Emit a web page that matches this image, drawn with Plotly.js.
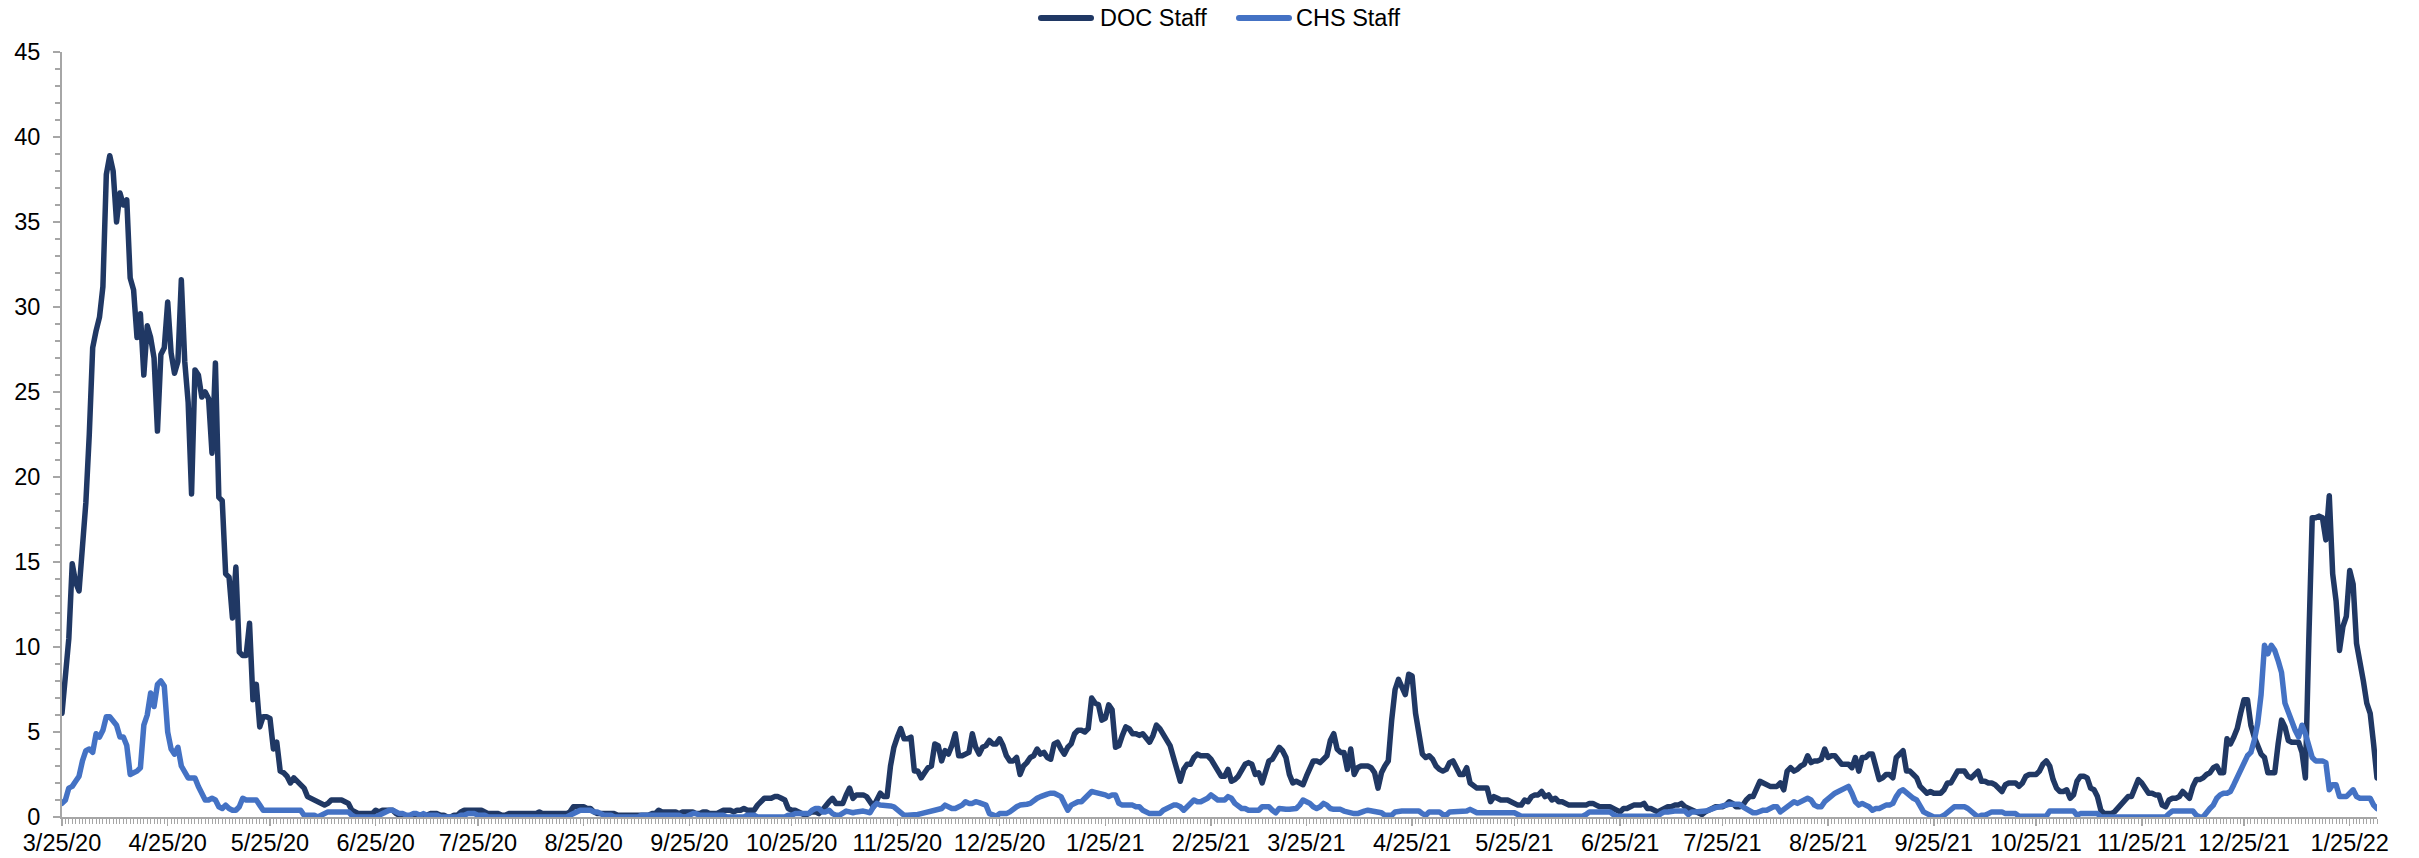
<!DOCTYPE html>
<html>
<head>
<meta charset="utf-8">
<script src="https://cdn.plot.ly/plotly-3.0.1.min.js"></script>
<style>
  html, body { margin: 0; padding: 0; background: #ffffff; }
  #chart { width: 2419px; height: 858px; }
  .scatterlayer .js-line { stroke-linejoin: round !important; stroke-linecap: round !important; }
  .shapelayer path { stroke-linecap: round !important; }
</style>
</head>
<body>
<div id="chart"></div>
<script>
// ---------------- data ----------------
const START_DATE = '2020-03-25';

const seriesNames = ['DOC Staff', 'CHS Staff'];

const tickDates = [
  '2020-03-25','2020-04-25','2020-05-25','2020-06-25','2020-07-25','2020-08-25',
  '2020-09-25','2020-10-25','2020-11-25','2020-12-25','2021-01-25','2021-02-25',
  '2021-03-25','2021-04-25','2021-05-25','2021-06-25','2021-07-25','2021-08-25',
  '2021-09-25','2021-10-25','2021-11-25','2021-12-25','2022-01-25'
];
const tickLabels = [
  '3/25/20','4/25/20','5/25/20','6/25/20','7/25/20','8/25/20',
  '9/25/20','10/25/20','11/25/20','12/25/20','1/25/21','2/25/21',
  '3/25/21','4/25/21','5/25/21','6/25/21','7/25/21','8/25/21',
  '9/25/21','10/25/21','11/25/21','12/25/21','1/25/22'
];

// daily values, one per day starting 3/25/20
const docStaff = [
  6.1,8.0,10.5,14.9,13.8,13.3,15.5,18.5,22.5,27.6, 28.6,29.4,31.2,37.8,38.9,38.0,35.0,36.7,36.0,36.3,
  31.7,31.0,28.2,29.6,26.0,28.9,28.2,27.0,22.7,27.2, 27.6,30.3,27.3,26.1,26.8,31.6,26.8,24.4,19.0,26.3,
  26.0,24.7,25.0,24.6,21.4,26.7,18.8,18.6,14.3,14.1, 11.7,14.7,9.7,9.5,9.5,11.4,6.9,7.8,5.3,5.9,
  5.9,5.8,4.0,4.4,2.7,2.6,2.4,2.0,2.3,2.1, 2.0,1.7,1.2,1.1,1.0,0.9,0.8,0.7,0.8,1.0,
  1.0,1.0,1.0,0.9,0.8,0.4,0.3,0.2,0.2,0.2, 0.2,0.2,0.4,0.3,0.4,0.4,0.4,0.4,0.2,0.1,
  0.1,0.05,0.05,0.1,0.1,0.05,0.1,0.1,0.2,0.2, 0.2,0.1,0.1,0.0,0.0,0.1,0.1,0.3,0.4,0.4,
  0.4,0.4,0.4,0.4,0.3,0.2,0.2,0.2,0.2,0.1, 0.1,0.2,0.2,0.2,0.2,0.2,0.2,0.2,0.2,0.2,
  0.3,0.2,0.2,0.2,0.2,0.2,0.2,0.2,0.2,0.3, 0.6,0.6,0.6,0.6,0.5,0.5,0.3,0.2,0.2,0.2,
  0.2,0.2,0.2,0.1,0.1,0.1,0.1,0.1,0.1,0.1, 0.1,0.1,0.1,0.2,0.2,0.4,0.3,0.3,0.3,0.3,
  0.3,0.2,0.3,0.3,0.3,0.3,0.2,0.2,0.3,0.3, 0.2,0.2,0.2,0.3,0.4,0.4,0.4,0.3,0.4,0.4,
  0.5,0.4,0.4,0.4,0.7,0.9,1.1,1.1,1.1,1.2, 1.2,1.1,1.0,0.5,0.4,0.4,0.3,0.2,0.1,0.2,
  0.3,0.3,0.2,0.4,0.7,0.9,1.1,0.8,0.8,0.8, 1.3,1.7,1.1,1.3,1.3,1.3,1.2,0.9,0.6,1.0,
  1.4,1.2,1.2,3.0,4.1,4.7,5.2,4.6,4.6,4.7, 2.7,2.7,2.3,2.6,2.9,3.0,4.3,4.2,3.3,3.9,
  3.7,4.2,4.9,3.6,3.6,3.7,3.8,4.9,4.1,3.7, 4.1,4.2,4.5,4.3,4.3,4.6,4.2,3.6,3.3,3.3,
  3.5,2.5,3.0,3.2,3.5,3.6,4.0,3.7,3.8,3.5, 3.4,4.3,4.4,4.0,3.7,4.1,4.3,4.9,5.1,5.1,
  5.0,5.2,7.0,6.7,6.6,5.7,5.8,6.6,6.3,4.1, 4.2,4.8,5.3,5.2,4.9,4.9,4.8,4.9,4.6,4.4,
  4.8,5.4,5.2,4.9,4.6,4.2,3.5,2.9,2.1,2.8, 3.1,3.1,3.5,3.7,3.6,3.6,3.6,3.4,3.1,2.7,
  2.4,2.4,2.8,2.1,2.2,2.4,2.8,3.1,3.2,3.1, 2.5,2.6,2.0,2.6,3.3,3.4,3.8,4.1,3.9,3.5,
  2.5,2.0,2.1,2.0,1.9,2.4,2.9,3.3,3.3,3.2, 3.4,3.6,4.5,4.9,4.0,3.8,3.8,2.8,4.0,2.5,
  2.9,3.0,3.0,3.0,2.9,2.6,1.7,2.6,3.0,3.3, 5.7,7.5,8.1,7.6,7.2,8.4,8.3,6.1,4.9,3.7,
  3.5,3.6,3.4,3.0,2.8,2.7,2.8,3.2,3.3,2.8, 2.5,2.5,2.9,2.0,1.8,1.7,1.7,1.7,1.7,0.9,
  1.2,1.1,1.0,1.0,1.0,0.9,0.8,0.7,0.7,1.0, 0.9,1.2,1.3,1.3,1.5,1.2,1.3,1.0,1.1,0.9,
  0.9,0.8,0.7,0.7,0.7,0.7,0.7,0.7,0.8,0.8, 0.7,0.6,0.6,0.6,0.6,0.5,0.4,0.3,0.5,0.5,
  0.6,0.7,0.7,0.7,0.8,0.5,0.5,0.4,0.3,0.4, 0.5,0.6,0.6,0.7,0.7,0.8,0.6,0.5,0.4,0.3,
  0.2,0.15,0.3,0.4,0.5,0.6,0.6,0.6,0.7,0.9, 0.8,0.6,0.6,0.7,1.0,1.2,1.2,1.7,2.1,2.0,
  1.9,1.8,1.8,1.8,2.0,1.6,2.7,2.9,2.7,2.8, 3.0,3.1,3.6,3.2,3.3,3.3,3.4,4.0,3.5,3.6,
  3.6,3.3,3.1,3.1,3.1,2.9,3.5,2.7,3.5,3.5, 3.7,3.7,2.9,2.2,2.3,2.5,2.5,2.3,3.5,3.7,
  3.9,2.7,2.7,2.5,2.3,1.8,1.6,1.4,1.5,1.4, 1.4,1.4,1.6,2.0,2.0,2.4,2.7,2.7,2.7,2.4,
  2.3,2.5,2.7,2.1,2.1,2.0,2.0,1.9,1.7,1.5, 1.9,2.0,2.0,2.0,1.8,2.0,2.4,2.5,2.5,2.5,
  2.7,3.1,3.3,3.0,2.2,1.7,1.5,1.5,1.6,1.1, 1.3,2.1,2.4,2.4,2.3,1.7,1.6,1.2,0.4,0.2,
  0.2,0.2,0.3,0.5,0.7,1.0,1.2,1.2,1.8,2.2, 2.0,1.7,1.4,1.4,1.3,1.3,0.7,0.6,1.0,1.1,
  1.1,1.2,1.5,1.3,1.1,1.8,2.2,2.2,2.3,2.5, 2.6,2.9,3.0,2.6,2.6,4.6,4.3,4.7,5.2,6.1,
  6.9,6.9,5.4,4.7,4.1,3.7,3.5,2.6,2.6,2.6, 4.3,5.7,5.3,4.5,4.4,4.4,4.4,3.8,2.3,10.4,
  17.6,17.6,17.7,17.6,16.3,18.9,14.3,12.7,9.8,11.2, 11.8,14.5,13.7,10.2,9.2,8.0,6.7,6.1,4.3,2.3
];

const chsStaff = [
  0.8,1.0,1.7,1.8,2.1,2.4,3.3,3.9,4.0,3.8, 4.9,4.7,5.1,5.9,5.9,5.7,5.4,4.7,4.7,4.2,
  2.5,2.6,2.7,2.9,5.4,6.0,7.3,6.5,7.8,8.0, 7.7,5.0,4.0,3.7,4.1,3.0,2.7,2.3,2.3,2.3,
  1.8,1.4,1.0,1.0,1.1,1.0,0.6,0.5,0.7,0.5, 0.4,0.4,0.6,1.1,1.0,1.0,1.0,1.0,0.7,0.4,
  0.4,0.4,0.4,0.4,0.4,0.4,0.4,0.4,0.4,0.4, 0.4,0.1,0.1,0.1,0.1,0.0,0.1,0.2,0.3,0.3,
  0.3,0.3,0.3,0.3,0.3,0.1,0.0,0.0,0.0,0.0, 0.0,0.0,0.0,0.1,0.2,0.3,0.4,0.4,0.3,0.2,
  0.2,0.1,0.1,0.2,0.2,0.1,0.2,0.1,0.1,0.1, 0.1,0.0,0.0,0.0,0.0,0.0,0.0,0.1,0.1,0.2,
  0.2,0.2,0.1,0.1,0.1,0.0,0.0,0.0,0.0,0.0, 0.0,0.0,0.0,0.0,0.0,0.0,0.0,0.0,0.0,0.0,
  0.0,0.0,0.0,0.0,0.0,0.0,0.0,0.0,0.0,0.1, 0.2,0.3,0.4,0.4,0.4,0.4,0.3,0.3,0.2,0.1,
  0.1,0.1,0.0,0.0,0.0,0.0,0.0,0.0,0.0,0.0, 0.1,0.1,0.1,0.1,0.1,0.1,0.1,0.1,0.1,0.1,
  0.1,0.1,0.0,0.0,0.1,0.2,0.2,0.1,0.1,0.1, 0.1,0.1,0.1,0.1,0.1,0.0,0.0,0.0,0.0,0.0,
  0.0,0.1,0.1,0.1,0.0,0.0,0.0,0.0,0.0,0.0, 0.0,0.0,0.0,0.1,0.1,0.2,0.2,0.2,0.2,0.2,
  0.4,0.5,0.5,0.3,0.3,0.4,0.2,0.1,0.1,0.2, 0.35,0.3,0.25,0.3,0.35,0.35,0.3,0.25,0.6,0.8,
  0.7,0.7,0.7,0.65,0.6,0.4,0.2,0.1,0.1,0.1, 0.1,0.15,0.2,0.25,0.3,0.4,0.45,0.5,0.5,0.7,
  0.6,0.5,0.5,0.6,0.7,0.9,0.8,0.8,0.9,0.85, 0.8,0.7,0.2,0.1,0.05,0.2,0.2,0.2,0.3,0.5,
  0.6,0.7,0.7,0.75,0.8,1.0,1.1,1.2,1.3,1.35, 1.4,1.4,1.3,1.2,0.8,0.4,0.7,0.8,0.9,0.9,
  1.1,1.4,1.5,1.45,1.4,1.4,1.3,1.2,1.3,1.3, 0.8,0.7,0.7,0.7,0.7,0.6,0.6,0.4,0.3,0.2,
  0.2,0.2,0.2,0.4,0.5,0.6,0.7,0.7,0.6,0.4, 0.6,0.9,1.0,0.9,0.9,1.0,1.1,1.3,1.1,1.0,
  1.0,1.0,1.2,1.1,0.8,0.6,0.5,0.5,0.4,0.4, 0.4,0.4,0.6,0.6,0.6,0.4,0.25,0.5,0.45,0.45,
  0.45,0.45,0.5,0.7,1.0,0.9,0.8,0.6,0.5,0.6, 0.8,0.7,0.5,0.45,0.45,0.45,0.35,0.3,0.2,0.2,
  0.2,0.3,0.35,0.4,0.35,0.3,0.25,0.25,0.1,0.1, 0.1,0.3,0.35,0.35,0.35,0.35,0.35,0.35,0.35,0.2,
  0.1,0.3,0.3,0.3,0.3,0.15,0.1,0.3,0.3,0.3, 0.3,0.3,0.35,0.45,0.3,0.25,0.25,0.25,0.25,0.25,
  0.25,0.25,0.25,0.25,0.25,0.25,0.25,0.15,0.05,0.05, 0.05,0.05,0.05,0.05,0.05,0.05,0.05,0.05,0.05,0.05,
  0.05,0.05,0.05,0.05,0.05,0.05,0.05,0.15,0.3,0.3, 0.3,0.3,0.3,0.3,0.3,0.15,0.05,0.05,0.05,0.05,
  0.05,0.05,0.05,0.05,0.05,0.05,0.05,0.05,0.05,0.2, 0.3,0.3,0.35,0.35,0.35,0.35,0.35,0.15,0.3,0.3,
  0.3,0.3,0.35,0.4,0.5,0.55,0.6,0.65,0.75,0.75, 0.75,0.75,0.75,0.6,0.45,0.3,0.25,0.25,0.35,0.4,
  0.4,0.5,0.6,0.6,0.3,0.45,0.6,0.7,0.9,0.8, 0.9,1.0,1.1,1.0,0.7,0.6,0.6,0.9,1.1,1.2,
  1.4,1.5,1.6,1.7,1.8,1.4,0.9,0.7,0.8,0.7, 0.6,0.4,0.5,0.5,0.6,0.7,0.7,0.8,1.2,1.5,
  1.6,1.4,1.2,1.1,1.0,0.7,0.3,0.2,0.1,0.0, 0.0,0.0,0.1,0.3,0.5,0.6,0.6,0.6,0.6,0.5,
  0.3,0.15,0.0,0.1,0.1,0.2,0.3,0.3,0.3,0.3, 0.2,0.2,0.2,0.2,0.05,0.05,0.05,0.05,0.05,0.05,
  0.05,0.05,0.05,0.35,0.35,0.35,0.35,0.35,0.35,0.35, 0.35,0.1,0.2,0.2,0.2,0.2,0.2,0.2,0.0,0.0,
  0.0,0.0,0.0,0.0,0.0,0.0,0.0,0.0,0.0,0.0, 0.0,0.0,0.0,0.0,0.0,0.0,0.0,0.0,0.2,0.35,
  0.35,0.35,0.35,0.35,0.35,0.35,0.1,0.0,0.0,0.3, 0.5,0.7,1.1,1.3,1.4,1.4,1.5,1.9,2.3,2.8,
  3.2,3.6,3.8,4.5,5.5,7.2,10.1,9.6,10.1,9.8, 9.2,8.5,6.7,6.1,5.6,5.1,4.7,5.4,4.9,4.1,
  3.5,3.3,3.3,3.3,3.2,1.6,1.9,1.9,1.2,1.2, 1.2,1.4,1.6,1.2,1.1,1.1,1.1,1.1,0.7,0.5
];

const seriesColors = ['#203864', '#4472C4'];

// ---------------- build ----------------
function dailyDates(start, n) {
  const p = start.split('-').map(Number);
  const t0 = Date.UTC(p[0], p[1] - 1, p[2]);
  const out = [];
  for (let i = 0; i < n; i++) out.push(new Date(t0 + i * 86400000).toISOString().slice(0, 10));
  return out;
}
const dates = dailyDates(START_DATE, docStaff.length);
const END_DATE = dates[dates.length - 1];

const FONT = 'Liberation Sans, Arial, Helvetica, sans-serif';
const AXIS_GRAY = '#A6A6A6';
const LINE_W = 5.5;

const W = 2419, H = 858;
const M = { l: 62, r: 42, t: 52, b: 41 };
const PW = W - M.l - M.r, PH = H - M.t - M.b;
// pixel -> paper helpers for the legend decoration (layout only)
const px = v => (v - M.l) / PW;
const py = v => (H - M.b - v) / PH;

const traces = [
  { x: dates, y: docStaff, name: seriesNames[0], type: 'scatter', mode: 'lines',
    line: { color: seriesColors[0], width: LINE_W, shape: 'linear' }, hoverinfo: 'skip', showlegend: false },
  { x: dates, y: chsStaff, name: seriesNames[1], type: 'scatter', mode: 'lines',
    line: { color: seriesColors[1], width: LINE_W, shape: 'linear' }, hoverinfo: 'skip', showlegend: false }
];

// legend: long line samples like the original
const legendItems = [
  { lineFrom: 1041, lineTo: 1091, textX: 1099 },
  { lineFrom: 1239, lineTo: 1289, textX: 1295 }
];
const LEG_Y = 18;
const shapes = legendItems.map((it, i) => ({
  type: 'line', xref: 'paper', yref: 'paper',
  x0: px(it.lineFrom), x1: px(it.lineTo), y0: py(LEG_Y), y1: py(LEG_Y),
  line: { color: seriesColors[i], width: 6 }
}));
const annotations = legendItems.map((it, i) => ({
  xref: 'paper', yref: 'paper', x: px(it.textX), y: py(LEG_Y),
  xanchor: 'left', yanchor: 'middle', showarrow: false,
  text: seriesNames[i], font: { family: FONT, size: 23.5, color: '#000000' },
  borderpad: 0
}));

const layout = {
  width: W, height: H,
  margin: { l: M.l, r: M.r, t: M.t, b: M.b, pad: 0 },
  paper_bgcolor: '#ffffff', plot_bgcolor: '#ffffff',
  font: { family: FONT, size: 24, color: '#000000' },
  showlegend: false,
  shapes: shapes,
  annotations: annotations,
  xaxis: {
    type: 'date', range: [START_DATE, END_DATE],
    tickmode: 'array', tickvals: tickDates, ticktext: tickLabels,
    showgrid: false, zeroline: false,
    showline: true, linecolor: AXIS_GRAY, linewidth: 2,
    ticks: 'outside', ticklen: 7, tickwidth: 1.5, tickcolor: AXIS_GRAY,
    tickfont: { family: FONT, size: 23.5, color: '#000000' },
    ticklabelstandoff: -3,
    minor: { ticks: 'outside', dtick: 86400000, tick0: START_DATE, ticklen: 5, tickwidth: 1, tickcolor: AXIS_GRAY, showgrid: false },
    automargin: false, fixedrange: true
  },
  yaxis: {
    range: [0, 45], tickmode: 'linear', tick0: 0, dtick: 5,
    showgrid: false, zeroline: false,
    showline: true, linecolor: AXIS_GRAY, linewidth: 2,
    ticks: 'outside', ticklen: 7, tickwidth: 1.5, tickcolor: AXIS_GRAY,
    tickfont: { family: FONT, size: 23.5, color: '#000000' },
    minor: { ticks: 'outside', dtick: 1, ticklen: 5, tickwidth: 1.5, tickcolor: AXIS_GRAY, showgrid: false },
    ticklabelstandoff: 8,
    automargin: false, fixedrange: true
  }
};

Plotly.newPlot('chart', traces, layout, { displayModeBar: false, staticPlot: true });
</script>
</body>
</html>
